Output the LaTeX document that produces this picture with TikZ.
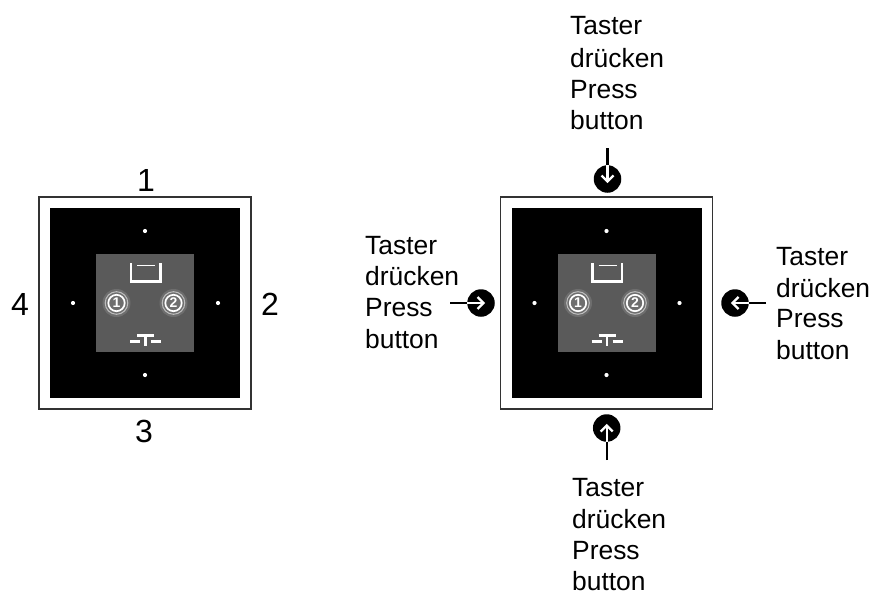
\documentclass[tikz,border=0pt]{standalone}
\usepackage{fontspec}
\usetikzlibrary{calc}
\setmainfont{Liberation Sans}
\definecolor{panelgray}{HTML}{5A5A5A}
\definecolor{framegray}{HTML}{333333}
\tikzset{
  x=1pt,y=-1pt,
  frame/.style={draw=framegray,line width=1.2pt,fill=white,minimum size=212pt,inner sep=0pt},
  blackface/.style={fill=black,minimum size=190pt,inner sep=0pt},
  grayface/.style={fill=panelgray,minimum size=98pt,inner sep=0pt},
  led/.style={circle,fill=white,minimum size=4.2pt,inner sep=0pt},
  pressdot/.style={circle,fill=black,minimum size=27.5pt,inner sep=0pt},
  lbl/.style={anchor=base west,inner sep=0pt,font=\fontsize{26.4}{30}\selectfont},
  digit/.style={inner sep=0pt,font=\fontsize{32}{36}\selectfont},
  pin/.style={draw=black,line width=2.4pt},
  pinwhite/.style={draw=white,line width=2.4pt,line join=miter},
  pics/panel/.style={code={
    \node[frame] (-frame) at (0,0) {};
    \node[blackface] (-black) at (0,0) {};
    \node[grayface] (-gray) at (0,0) {};
    \node[led] (-l1) at (0,-72) {};
    \node[led] (-l2) at (73,0) {};
    \node[led] (-l3) at (0,72) {};
    \node[led] (-l4) at (-72,0) {};
    \draw[white,line width=2.6pt] (-14,-40) -- (-14,-21.5) -- (15.5,-21.5) -- (15.5,-40);
    \draw[white,line width=1.6pt] (-8,-37.5) -- (10,-37.5);
    \draw[white,line width=3pt] (-8,32.5) -- (9,32.5);
    \draw[white,line width=2.6pt] (0.5,32.5) -- (0.5,43);
    \draw[white,line width=3pt] (-15,38) -- (-5,38);
    \draw[white,line width=3pt] (6,38) -- (16,38);
    \foreach \cx/\num in {-28.5/1,28.5/2}{
      \fill[white!12!panelgray] (\cx,0) circle (14);
      \draw[white!60!panelgray,line width=1pt] (\cx,0) circle (11.3);
      \draw[white,line width=1.7pt] (\cx,0) circle (8.2);
      \node[text=white,inner sep=0pt,font=\fontsize{14}{14}\bfseries\selectfont] at (\cx,0) {\num};
    }
  }},
}
\begin{document}
\begin{tikzpicture}
\useasboundingbox (0,0) rectangle (886,594);
\pic (A) at (145,303) {panel};
\pic (B) at (606.5,303) {panel};
% digits
\node[digit] (n1) at (146,180) {1};
\node[digit] (n2) at (270,304) {2};
\node[digit] (n3) at (144,431) {3};
\node[digit] (n4) at (20,304) {4};
% press dots
\node[pressdot] (pt) at (607.5,179) {};
\node[pressdot] (pb) at (606.7,428) {};
\node[pressdot] (pl) at (481,303) {};
\node[pressdot] (pr) at (735,303) {};
\coordinate (et) at (607.5,148);
\coordinate (eb) at (606.7,460);
\coordinate (el) at (450,303);
\coordinate (er) at (766,303);
\draw[pin] (et) -- (pt.north);
\draw[pin] (eb) -- (pb.south);
\draw[pin] (el) -- (pl.west);
\draw[pin] (er) -- (pr.east);
\draw[pinwhite] (pt.north) -- ($(pt.center)+(0,2.5)$);
\draw[pinwhite] ($(pt.center)+(-6,-3.5)$) -- ($(pt.center)+(0,2.5)$) -- ($(pt.center)+(6,-3.5)$);
\draw[pinwhite] (pb.south) -- ($(pb.center)+(0,-2.5)$);
\draw[pinwhite] ($(pb.center)+(-6,3.5)$) -- ($(pb.center)+(0,-2.5)$) -- ($(pb.center)+(6,3.5)$);
\draw[pinwhite] (pl.west) -- ($(pl.center)+(2.5,0)$);
\draw[pinwhite] ($(pl.center)+(-3.5,-6)$) -- ($(pl.center)+(2.5,0)$) -- ($(pl.center)+(-3.5,6)$);
\draw[pinwhite] (pr.east) -- ($(pr.center)+(-2.5,0)$);
\draw[pinwhite] ($(pr.center)+(3.5,-6)$) -- ($(pr.center)+(-2.5,0)$) -- ($(pr.center)+(3.5,6)$);
% labels
\node[lbl] (t1) at (570,35) {Taster};
\node[lbl] (t2) at (570,67) {drücken};
\node[lbl] (t3) at (570,98) {Press};
\node[lbl] (t4) at (570,129) {button};
\node[lbl] (l1) at (365,254) {Taster};
\node[lbl] (l2) at (365,285) {drücken};
\node[lbl] (l3) at (365,316) {Press};
\node[lbl] (l4) at (365,348) {button};
\node[lbl] (r1) at (776,265) {Taster};
\node[lbl] (r2) at (776,297) {drücken};
\node[lbl] (r3) at (776,327) {Press};
\node[lbl] (r4) at (776,359) {button};
\node[lbl] (b1) at (572,496) {Taster};
\node[lbl] (b2) at (572,528) {drücken};
\node[lbl] (b3) at (572,559) {Press};
\node[lbl] (b4) at (572,590) {button};
\end{tikzpicture}
\end{document}
